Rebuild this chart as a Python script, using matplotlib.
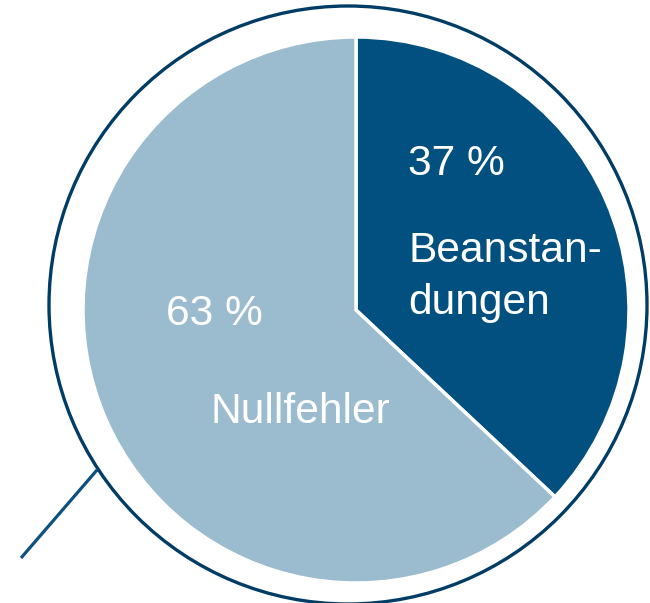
import matplotlib
matplotlib.use("Agg")
import matplotlib.pyplot as plt
from matplotlib.patches import Circle

categories = ["Beanstan-\ndungen", "Nullfehler"]
values = [37, 63]
colors = ["#02507f", "#9bbbcf"]

W, H = 650, 603
fig = plt.figure(figsize=(W / 100, H / 100), dpi=100)
ax = fig.add_axes([0, 0, 1, 1])

def py(y):
    return H - y

# magnifier handle
ax.plot([21, 97], [py(558), py(470)], color="#0b5080", lw=2.3, solid_capstyle="butt", zorder=1)
# magnifier ring
ax.add_patch(Circle((348, py(305)), 299, fill=False, edgecolor="#003d66", lw=2.4, zorder=2))

ax.pie(values, colors=colors, startangle=90, counterclock=False,
       center=(356, py(310)), radius=273, frame=True,
       wedgeprops=dict(edgecolor="white", linewidth=2.5))
ax.set_xlim(0, W)
ax.set_ylim(0, H)
ax.set_aspect("equal")
ax.axis("off")

font = dict(family=["Liberation Sans", "DejaVu Sans"], fontsize=30.6, color="white",
            ha="left", va="baseline")

# label positions (pixel coords): percent baseline, label first-line baseline
pos = [((408, 175), (408, 262)), ((166, 325), (211, 423))]
for cat, val, (pp, lp) in zip(categories, values, pos):
    ax.text(pp[0], py(pp[1]), f"{val} %", **font)
    for i, line in enumerate(cat.split("\n")):
        ax.text(lp[0], py(lp[1] + 52 * i), line, **font)

fig.savefig("out.png", dpi=100)
